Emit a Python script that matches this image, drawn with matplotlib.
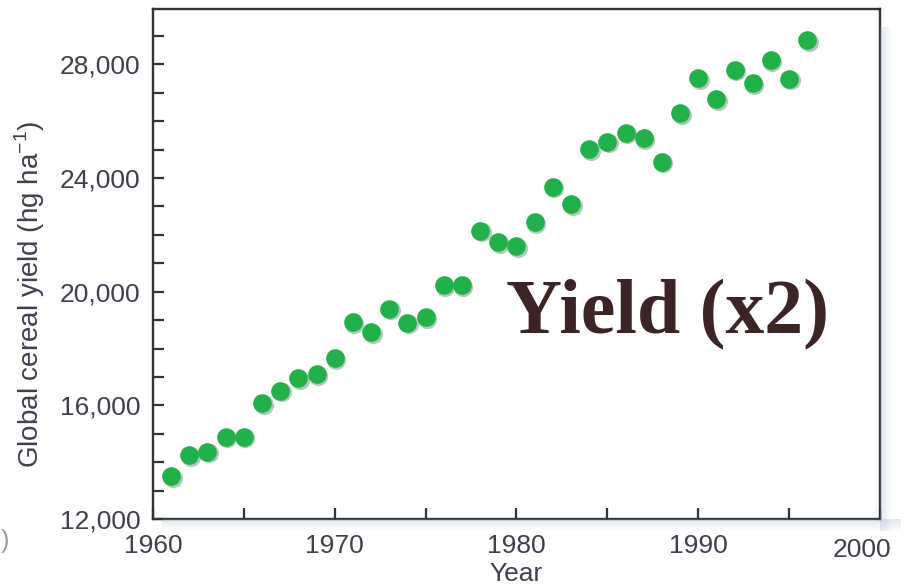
import numpy as np
import matplotlib
matplotlib.use('Agg')
from matplotlib import pyplot as plt
from matplotlib.patches import Rectangle
from matplotlib.transforms import ScaledTranslation

years = [1961, 1962, 1963, 1964, 1965, 1966, 1967, 1968, 1969, 1970,
         1971, 1972, 1973, 1974, 1975, 1976, 1977, 1978, 1979, 1980,
         1981, 1982, 1983, 1984, 1985, 1986, 1987, 1988, 1989, 1990,
         1991, 1992, 1993, 1994, 1995, 1996]
yield_hg = [13500, 14250, 14370, 14900, 14900, 16080, 16520, 16950, 17100, 17660,
            18930, 18580, 19400, 18900, 19100, 20220, 20220, 22140, 21750, 21600,
            22440, 23690, 23080, 25010, 25280, 25600, 25400, 24580, 26280, 27520,
            26780, 27810, 27340, 28140, 27490, 28850]

xticks = [1960, 1970, 1980, 1990, 2000]
yticks = [12000, 16000, 20000, 24000, 28000]
ytick_labels = ['12,000', '16,000', '20,000', '24,000', '28,000']

plt.rcParams['font.family'] = ['Liberation Sans', 'DejaVu Sans']
plt.rcParams['mathtext.fontset'] = 'custom'
plt.rcParams['mathtext.rm'] = 'Liberation Sans'

txt_col = '#3f3f4f'
dot_col = '#22b04a'

fig = plt.figure(figsize=(9.05, 5.86), dpi=100)
ax = fig.add_axes([0.169, 0.1143, 0.8034, 0.8703])

# soft blue-grey shadow right of and below the frame
for i in range(12):
    a = 0.25 * (1 - i / 12.0)
    fig.patches.append(Rectangle((0.9724 + i * 0.001105, 0.1143 - 0.02), 0.001105, 0.8703 - 0.01,
                                 transform=fig.transFigure, color='#8ea2bf', alpha=a, lw=0, zorder=0))
    fig.patches.append(Rectangle((0.169 + 0.01, 0.1143 - (i + 1) * 0.001706), 0.8034 + 0.0133, 0.001706,
                                 transform=fig.transFigure, color='#8ea2bf', alpha=a, lw=0, zorder=0))

# dots with a faint drop shadow
shadow = ax.transData + ScaledTranslation(1.5 / 100, -1.5 / 100, fig.dpi_scale_trans)
ax.scatter(years, yield_hg, s=190, color='#1d6e33', alpha=0.35, lw=0, transform=shadow, zorder=2)
ax.scatter(years, yield_hg, s=180, color=dot_col, lw=0, zorder=3)

ax.set_xlim(1960, 2000)
ax.set_ylim(12000, 29950)
ax.set_xticks(xticks)
ax.set_xticks([1965, 1975, 1985, 1995], minor=True)
ax.set_yticks(yticks)
ax.set_yticklabels(ytick_labels)
ax.set_yticks(np.arange(13000, 30000, 1000), minor=True)

ax.tick_params(which='both', direction='in', length=8, width=1.6, color='#333333')
ax.tick_params(axis='y', labelsize=19, labelcolor=txt_col, pad=9)
ax.tick_params(axis='x', labelsize=19, labelcolor=txt_col, pad=11)
ax.tick_params(which='both', top=False, right=False)

lbl = ax.get_xticklabels()[-1]
lbl.set_transform(lbl.get_transform() + ScaledTranslation(-0.18, -0.04, fig.dpi_scale_trans))

for s in ax.spines.values():
    s.set_linewidth(1.7)
    s.set_color('#333333')

ax.set_xlabel('Year', fontsize=19, color=txt_col)
ax.xaxis.set_label_coords(0.5, -0.085)
ax.set_ylabel('Global cereal yield (hg ha$^{-1}$)', fontsize=20, color=txt_col)
ax.yaxis.set_label_coords(-0.146, 0.44)

ax.text(1979.4, 18530, 'Yield (x2)', fontsize=56, fontweight='bold', family='Liberation Serif',
        color='#3b2326', va='baseline', ha='left', zorder=4)

fig.text(0.001, 0.065, ')', fontsize=18, color='#9a9aa8')

fig.savefig('out.png', dpi=100)
